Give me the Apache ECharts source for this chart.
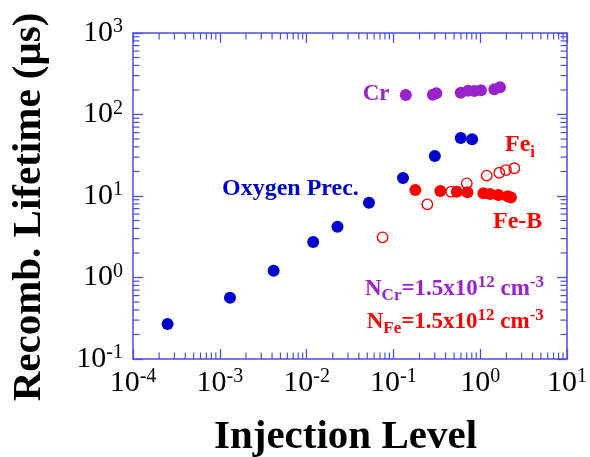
<!DOCTYPE html>
<html><head><meta charset="utf-8">
<script src="https://cdn.jsdelivr.net/npm/echarts@6/dist/echarts.min.js"></script>
<style>html,body{margin:0;padding:0;background:#fff}#c{width:590px;height:457px}</style>
</head><body><div id="c"></div>
<script>
// ---- data ----
const xTickExps = ['-4', '-3', '-2', '-1', '0', '1'];
const yTickExps = ['-1', '0', '1', '2', '3'];
const oxygenX = [2.5e-4, 1.31e-3, 4.17e-3, 0.0119, 0.0227, 0.0523, 0.129, 0.30, 0.597, 0.807];
const oxygenY = [0.268, 0.565, 1.21, 2.73, 4.2, 8.28, 16.6, 31.0, 51.5, 49.7];
const crX = [0.139, 0.285, 0.312, 0.597, 0.727, 0.857, 1.02, 1.455, 1.69];
const crY = [173, 175, 182, 185, 196, 194, 198, 204, 216];
const feBX = [0.179, 0.347, 0.538, 0.713, 1.09, 1.30, 1.62, 2.07, 2.26];
const feBY = [11.85, 11.5, 11.3, 11.1, 10.8, 10.6, 10.3, 9.9, 9.6];
const feiX = [0.075, 0.246, 0.463, 0.70, 1.19, 1.66, 1.98, 2.47];
const feiY = [3.11, 7.9, 11.3, 14.3, 17.8, 19.3, 20.8, 21.9];

// ---- style ----
const FONT = '"Liberation Serif", "Times New Roman", serif';
const FRAME = '#4d4de6';
const BLUE = '#0000cc';
const PURPLE = '#9922cc';
const RED = '#ff0000';

const xMin = 1e-4, xMax = 10, yMin = 0.1, yMax = 1000;
function minorTicks(lo, hi) {
  const out = [];
  for (let e = Math.round(Math.log10(lo)); e < Math.round(Math.log10(hi)); e++) {
    for (let m = 2; m <= 9; m++) out.push(m * Math.pow(10, e));
  }
  return out;
}
const xMinor = minorTicks(xMin, xMax);
const yMinor = minorTicks(yMin, yMax);

const pair = (xs, ys) => xs.map((x, i) => [x, ys[i]]);

function expLabel(list) {
  return function (v) {
    const e = Math.round(Math.log10(v));
    const s = list.find(t => Number(t) === e);
    return s === undefined ? '' : '{b|10}{s|' + s + '}';
  };
}
const tickRich = {
  b: { fontFamily: FONT, fontSize: 30, lineHeight: 32, color: '#000' },
  s: { fontFamily: FONT, fontSize: 20, lineHeight: 21, verticalAlign: 'top', color: '#000' }
};

const axisCommon = {
  type: 'log', logBase: 10,
  axisLine: { show: true, lineStyle: { color: FRAME, width: 1.5 } },
  axisTick: { show: true, inside: true, length: 10, lineStyle: { color: FRAME, width: 1.3 } },
  splitLine: { show: false },
  minorTick: { show: false }
};

function minorRender(isX) {
  return function (params, api) {
    const cs = params.coordSys;
    const L = 6.5;
    const st = { stroke: FRAME, lineWidth: 1.2 };
    if (isX) {
      const x = api.coord([api.value(0), 1])[0];
      return { type: 'group', children: [
        { type: 'line', shape: { x1: x, y1: cs.y + cs.height, x2: x, y2: cs.y + cs.height - L }, style: st },
        { type: 'line', shape: { x1: x, y1: cs.y, x2: x, y2: cs.y + L }, style: st }
      ]};
    } else {
      const y = api.coord([1, api.value(1)])[1];
      return { type: 'group', children: [
        { type: 'line', shape: { x1: cs.x, y1: y, x2: cs.x + L, y2: y }, style: st },
        { type: 'line', shape: { x1: cs.x + cs.width, y1: y, x2: cs.x + cs.width - L, y2: y }, style: st }
      ]};
    }
  };
}

const txt = (color, size) => ({ fontFamily: FONT, fontWeight: 'bold', fontSize: size, color: color, fill: color });

const chart = echarts.init(document.getElementById('c'), null, { renderer: 'canvas' });
chart.setOption({
  animation: false,
  backgroundColor: '#fff',
  grid: { left: 133, right: 21, top: 33, bottom: 98, containLabel: false },
  xAxis: [
    Object.assign({}, axisCommon, { position: 'bottom', min: xMin, max: xMax,
      axisLabel: { show: true, margin: 8, formatter: expLabel(xTickExps), rich: tickRich } }),
    Object.assign({}, axisCommon, { position: 'top', min: xMin, max: xMax, axisLabel: { show: false } })
  ],
  yAxis: [
    Object.assign({}, axisCommon, { position: 'left', min: yMin, max: yMax,
      axisLabel: { show: true, margin: 10, formatter: expLabel(yTickExps), rich: tickRich } }),
    Object.assign({}, axisCommon, { position: 'right', min: yMin, max: yMax, axisLabel: { show: false } })
  ],
  series: [
    { type: 'custom', silent: true, renderItem: minorRender(true), data: xMinor.map(v => [v, 1]), encode: { x: 0, y: 1 }, z: 1 },
    { type: 'custom', silent: true, renderItem: minorRender(false), data: yMinor.map(v => [1, v]), encode: { x: 0, y: 1 }, z: 1 },
    { name: 'Oxygen Prec.', type: 'scatter', symbol: 'circle', symbolSize: 12, data: pair(oxygenX, oxygenY),
      itemStyle: { color: BLUE, opacity: 1 }, z: 3 },
    { name: 'Cr', type: 'scatter', symbol: 'circle', symbolSize: 12, data: pair(crX, crY),
      itemStyle: { color: PURPLE, opacity: 1 }, z: 3 },
    { name: 'Fe_i', type: 'scatter', symbol: 'circle', symbolSize: 10.5, data: pair(feiX, feiY),
      itemStyle: { color: 'rgba(255,255,255,0)', borderColor: RED, borderWidth: 1.4, opacity: 1 }, z: 3 },
    { name: 'Fe-B', type: 'scatter', symbol: 'circle', symbolSize: 12, data: pair(feBX, feBY),
      itemStyle: { color: RED, opacity: 1 }, z: 4 }
  ],
  graphic: [
    { type: 'text', x: 345.5, y: 437, z: 10,
      style: Object.assign(txt('#000', 41), { text: 'Injection Level', align: 'center', verticalAlign: 'middle' }) },
    { type: 'text', x: 29, y: 207, rotation: Math.PI / 2, z: 10,
      style: Object.assign(txt('#000', 41), { text: 'Recomb. Lifetime (μs)', align: 'center', verticalAlign: 'middle' }) },
    { type: 'text', x: 362.7, y: 94, z: 10,
      style: Object.assign(txt(PURPLE, 23), { text: 'Cr', align: 'left', verticalAlign: 'middle' }) },
    { type: 'text', x: 222, y: 189, z: 10,
      style: Object.assign(txt(BLUE, 24), { text: 'Oxygen Prec.', align: 'left', verticalAlign: 'middle' }) },
    { type: 'text', x: 493, y: 221.5, z: 10,
      style: Object.assign(txt(RED, 24), { text: 'Fe-B', align: 'left', verticalAlign: 'middle' }) },
    { type: 'text', x: 505, y: 145, z: 10,
      style: { text: '{m|Fe}{d|i}', align: 'left', verticalAlign: 'middle',
        rich: { m: Object.assign(txt(RED, 24), { lineHeight: 32 }),
                d: Object.assign(txt(RED, 17), { lineHeight: 17, verticalAlign: 'bottom' }) } } },
    { type: 'text', x: 365, y: 289, z: 10,
      style: { text: '{m|N}{d|Cr}{m|=1.5x10}{u|12}{m| cm}{u|-3}', align: 'left', verticalAlign: 'middle',
        rich: { m: Object.assign(txt(PURPLE, 23), { lineHeight: 30 }),
                d: Object.assign(txt(PURPLE, 17), { lineHeight: 17, verticalAlign: 'bottom' }),
                u: Object.assign(txt(PURPLE, 17), { lineHeight: 22, verticalAlign: 'top' }) } } },
    { type: 'text', x: 366.7, y: 322.5, z: 10,
      style: { text: '{m|N}{d|Fe}{m|=1.5x10}{u|12}{m| cm}{u|-3}', align: 'left', verticalAlign: 'middle',
        rich: { m: Object.assign(txt(RED, 23), { lineHeight: 30 }),
                d: Object.assign(txt(RED, 17), { lineHeight: 17, verticalAlign: 'bottom' }),
                u: Object.assign(txt(RED, 17), { lineHeight: 22, verticalAlign: 'top' }) } } }
  ]
});
</script>
</body></html>
